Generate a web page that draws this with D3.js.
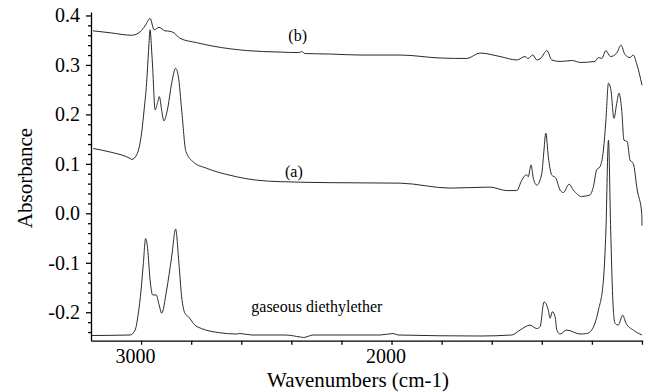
<!DOCTYPE html>
<html>
<head>
  <meta charset="utf-8">
  <script type="text/javascript" src="https://d3js.org/d3.v7.min.js"></script>
</head>
<body>
<style type="text/css">
  html,
  body {
    margin: 0px;
    background: #ffffff;
  }

  svg {
    display: block;
  }

  svg text {
    font-family: "Liberation Serif", "Times New Roman", serif !important;
    fill: #000000;
  }

  .spectrum {
    fill: none;
    stroke: #2a2a2a;
    stroke-width: 1;
  }

  .axis path,
  .axis line {
    stroke: #000000;
    stroke-width: 1.3;
  }
</style>

<script>
"use strict";

// Spectrum (b): [wavenumber, absorbance]
const SPECTRUM_B = [
  [3192, 0.369], [3124, 0.365], [3037, 0.360], [3004, 0.367], [2984, 0.379],
  [2964, 0.394], [2948, 0.371], [2928, 0.376], [2905, 0.369], [2885, 0.368],
  [2869, 0.365], [2845, 0.354], [2778, 0.345], [2713, 0.338], [2578, 0.329],
  [2445, 0.326], [2370, 0.325], [2359, 0.327], [2346, 0.323], [2246, 0.322],
  [2126, 0.320], [1966, 0.320], [1806, 0.314], [1700, 0.313], [1647, 0.324],
  [1567, 0.317], [1500, 0.310], [1467, 0.317], [1455, 0.313], [1436, 0.320],
  [1420, 0.310], [1403, 0.314], [1380, 0.329], [1360, 0.310], [1327, 0.307],
  [1278, 0.309], [1247, 0.305], [1188, 0.307], [1174, 0.315], [1161, 0.313],
  [1144, 0.329], [1126, 0.317], [1101, 0.324], [1084, 0.340], [1068, 0.321],
  [1048, 0.315], [1035, 0.320], [1021, 0.302], [1000, 0.259]
];

// Spectrum (a)
const SPECTRUM_A = [
  [3191, 0.131], [3124, 0.124], [3044, 0.111], [3037, 0.109], [3018, 0.118],
  [2998, 0.162], [2988, 0.209], [2978, 0.263], [2970, 0.330], [2964, 0.371],
  [2958, 0.330], [2954, 0.296], [2944, 0.209], [2935, 0.222], [2927, 0.236],
  [2918, 0.209], [2909, 0.187], [2895, 0.209], [2878, 0.263], [2862, 0.293],
  [2851, 0.276], [2838, 0.209], [2821, 0.125], [2792, 0.104], [2738, 0.091],
  [2645, 0.077], [2538, 0.067], [2445, 0.064], [2246, 0.062], [1966, 0.061],
  [1767, 0.051], [1607, 0.053], [1540, 0.046], [1500, 0.046], [1480, 0.067],
  [1461, 0.078], [1454, 0.074], [1443, 0.098], [1434, 0.071], [1420, 0.057],
  [1400, 0.081], [1393, 0.118], [1384, 0.162], [1374, 0.114], [1360, 0.077],
  [1345, 0.072], [1327, 0.047], [1314, 0.042], [1291, 0.059], [1274, 0.047],
  [1241, 0.034], [1208, 0.037], [1194, 0.054], [1181, 0.088], [1168, 0.094],
  [1154, 0.128], [1144, 0.189], [1134, 0.263], [1124, 0.249], [1112, 0.192],
  [1101, 0.222], [1092, 0.243], [1081, 0.209], [1072, 0.148], [1059, 0.145],
  [1048, 0.108], [1035, 0.101], [1019, 0.047], [1001, 0.000], [1000, -0.025]
];

// Gaseous diethylether
const SPECTRUM_GAS = [
  [3197, -0.247], [3044, -0.246], [3024, -0.236], [3011, -0.202], [3000, -0.155],
  [2991, -0.101], [2982, -0.051], [2974, -0.071], [2964, -0.135], [2954, -0.165],
  [2940, -0.165], [2928, -0.185], [2918, -0.202], [2898, -0.155], [2878, -0.088],
  [2862, -0.032], [2849, -0.101], [2838, -0.169], [2825, -0.202], [2811, -0.209],
  [2785, -0.226], [2758, -0.233], [2692, -0.241], [2618, -0.244], [2605, -0.243],
  [2558, -0.246], [2425, -0.246], [2365, -0.250], [2352, -0.251], [2312, -0.246],
  [2046, -0.246], [1993, -0.243], [1973, -0.246], [1647, -0.248], [1520, -0.246],
  [1487, -0.236], [1447, -0.226], [1420, -0.233], [1407, -0.229], [1391, -0.179],
  [1374, -0.196], [1367, -0.212], [1358, -0.199], [1347, -0.209], [1340, -0.236],
  [1327, -0.244], [1301, -0.236], [1247, -0.244], [1221, -0.243], [1201, -0.236],
  [1174, -0.196], [1154, -0.135], [1144, -0.034], [1134, 0.148], [1125, -0.034],
  [1117, -0.169], [1108, -0.222], [1095, -0.226], [1077, -0.206], [1064, -0.222],
  [1035, -0.236], [1000, -0.246]
];

const X_TICKS = [3000, 2800, 2600, 2400, 2200, 2000, 1800, 1600, 1400, 1200, 1000];
const X_TICK_LABELS = [3000, 2000];
const Y_TICKS = d3.range(-24, 41, 2).map(function(d) { return d / 100; });
const Y_TICK_LABELS = [-0.2, -0.1, 0.0, 0.1, 0.2, 0.3, 0.4];

const SERIES_LABELS = [
  ["(b)", 2375, 0.348, "middle"],
  ["(a)", 2390, 0.073, "middle"],
  ["gaseous diethylether", 2560, -0.200, "start"]
];

document.addEventListener("DOMContentLoaded", function() {
  const WIDTH = 645;
  const HEIGHT = 392;
  const LEFT = 91;
  const RIGHT = 642;
  const TOP = 12;
  const BOTTOM = 340.7;
  const SERIF = "Liberation Serif, Times New Roman, serif";

  const SVG = d3.select("body")
    .append("svg")
    .attr("width", WIDTH)
    .attr("height", HEIGHT);

  const X_SCALE = d3.scaleLinear().domain([3200, 1000]).range([LEFT, RIGHT]);
  const Y_SCALE = d3.scaleLinear().domain([-0.2575, 0.407]).range([BOTTOM, TOP]);

  function isMajorY(d) {
    return Y_TICK_LABELS.some(function(v) { return Math.abs(v - d) < 1e-6; });
  }

  // Spectra
  const line = d3.line()
    .x(function(d) { return X_SCALE(d[0]); })
    .y(function(d) { return Y_SCALE(d[1]); })
    .curve(d3.curveMonotoneX);

  SVG.selectAll(".spectrum")
    .data([SPECTRUM_B, SPECTRUM_A, SPECTRUM_GAS])
    .enter()
    .append("path")
    .classed("spectrum", true)
    .attr("d", line);

  // X axis
  const xAxis = SVG.append("g")
    .classed("axis", true)
    .attr("transform", "translate(0," + BOTTOM + ")")
    .call(
      d3.axisBottom(X_SCALE)
        .tickValues(X_TICKS)
        .tickSize(4)
        .tickPadding(4)
        .tickSizeOuter(0)
        .tickFormat(function(d) { return X_TICK_LABELS.indexOf(d) >= 0 ? String(d) : ""; })
    );
  xAxis.attr("font-family", SERIF);
  xAxis.selectAll("text").attr("font-size", 20).attr("dx", -6);

  // Y axis, minor ticks every 0.02 and labels every 0.1
  const yAxis = SVG.append("g")
    .classed("axis", true)
    .attr("transform", "translate(" + LEFT + ",0)")
    .call(
      d3.axisLeft(Y_SCALE)
        .tickValues(Y_TICKS)
        .tickSize(3)
        .tickPadding(8)
        .tickSizeOuter(0)
        .tickFormat(function(d) {
          return isMajorY(d) ? d.toFixed(1).replace("-0.0", "0.0") : "";
        })
    );
  yAxis.attr("font-family", SERIF);
  yAxis.selectAll("text").attr("font-size", 20);
  yAxis.selectAll(".tick line")
    .attr("x2", function(d) { return isMajorY(d) ? -5 : -3; });

  // Axis titles
  SVG.append("text")
    .attr("x", 358)
    .attr("y", 387)
    .attr("text-anchor", "middle")
    .attr("font-family", SERIF)
    .attr("font-size", 21)
    .text("Wavenumbers (cm-1)");

  SVG.append("text")
    .attr("transform", "translate(31.5,178) rotate(-90)")
    .attr("text-anchor", "middle")
    .attr("font-family", SERIF)
    .attr("font-size", 21)
    .text("Absorbance");

  // Series labels
  SVG.selectAll(".series-label")
    .data(SERIES_LABELS)
    .enter()
    .append("text")
    .classed("series-label", true)
    .attr("x", function(d) { return X_SCALE(d[1]); })
    .attr("y", function(d) { return Y_SCALE(d[2]); })
    .attr("text-anchor", function(d) { return d[3]; })
    .attr("font-family", SERIF)
    .attr("font-size", 16)
    .text(function(d) { return d[0]; });
});
</script>
</body>
</html>
